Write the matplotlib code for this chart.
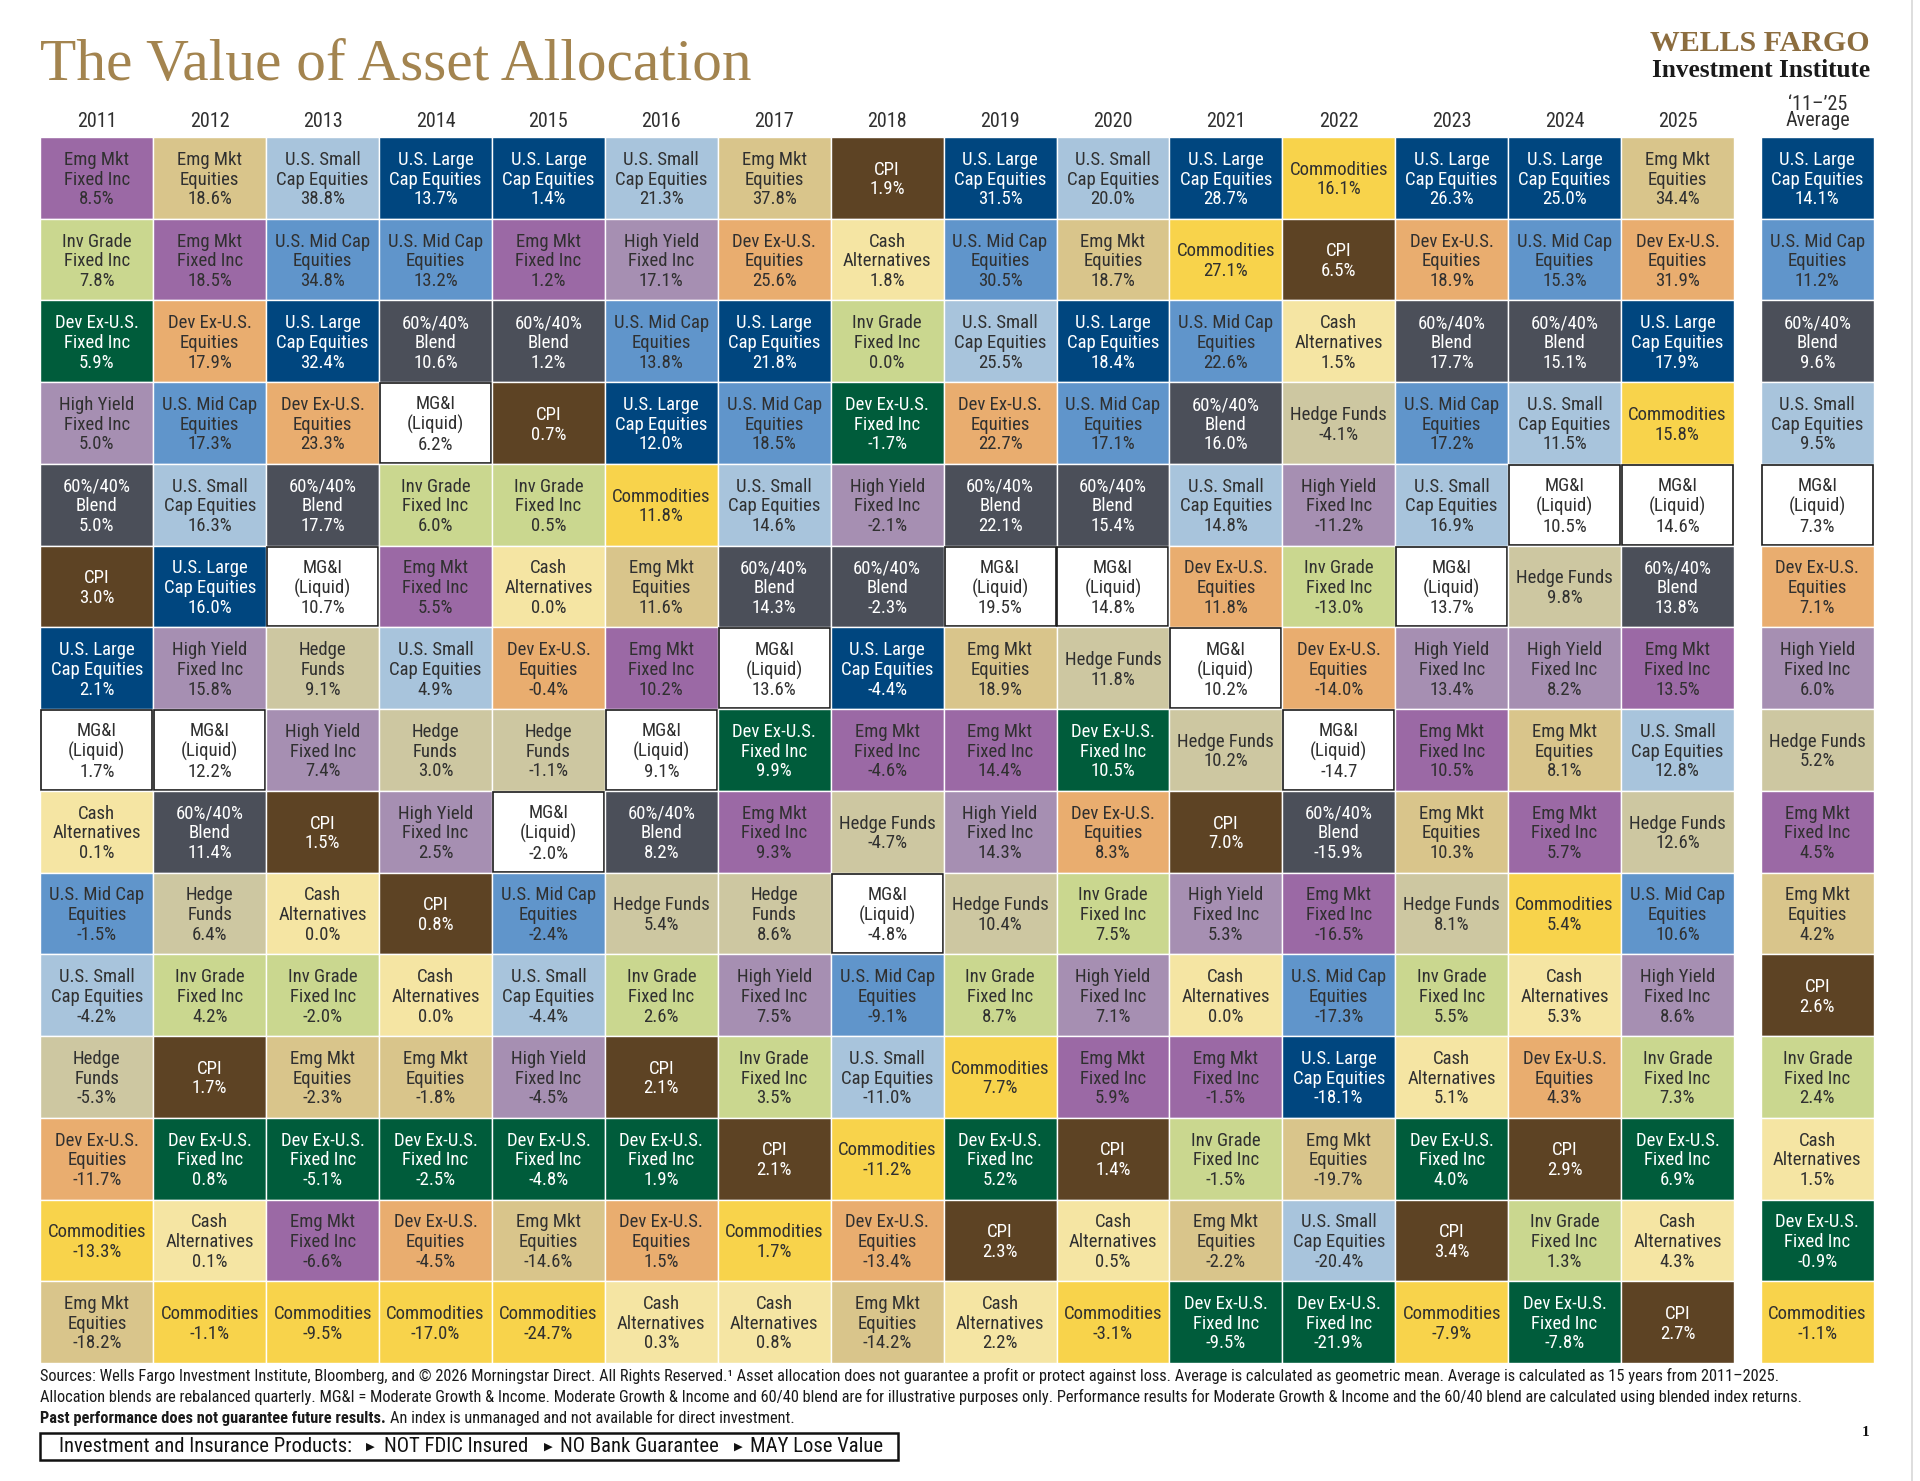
import numpy as np
import matplotlib.pyplot as plt
from matplotlib import font_manager
from matplotlib.patches import Rectangle

# ---- data: asset classes ranked best to worst for each year ----
years = ['2011', '2012', '2013', '2014', '2015', '2016', '2017', '2018',
         '2019', '2020', '2021', '2022', '2023', '2024', '2025']

ranked_assets = [
    ['EMFI', 'IGFI', 'DXFI', 'HYFI', 'BLEND', 'CPI', 'USLC', 'MGI', 'CASH', 'USMC', 'USSC', 'HF', 'DXE', 'COMM', 'EME'],
    ['EME', 'EMFI', 'DXE', 'USMC', 'USSC', 'USLC', 'HYFI', 'MGI', 'BLEND', 'HF', 'IGFI', 'CPI', 'DXFI', 'CASH', 'COMM'],
    ['USSC', 'USMC', 'USLC', 'DXE', 'BLEND', 'MGI', 'HF', 'HYFI', 'CPI', 'CASH', 'IGFI', 'EME', 'DXFI', 'EMFI', 'COMM'],
    ['USLC', 'USMC', 'BLEND', 'MGI', 'IGFI', 'EMFI', 'USSC', 'HF', 'HYFI', 'CPI', 'CASH', 'EME', 'DXFI', 'DXE', 'COMM'],
    ['USLC', 'EMFI', 'BLEND', 'CPI', 'IGFI', 'CASH', 'DXE', 'HF', 'MGI', 'USMC', 'USSC', 'HYFI', 'DXFI', 'EME', 'COMM'],
    ['USSC', 'HYFI', 'USMC', 'USLC', 'COMM', 'EME', 'EMFI', 'MGI', 'BLEND', 'HF', 'IGFI', 'CPI', 'DXFI', 'DXE', 'CASH'],
    ['EME', 'DXE', 'USLC', 'USMC', 'USSC', 'BLEND', 'MGI', 'DXFI', 'EMFI', 'HF', 'HYFI', 'IGFI', 'CPI', 'COMM', 'CASH'],
    ['CPI', 'CASH', 'IGFI', 'DXFI', 'HYFI', 'BLEND', 'USLC', 'EMFI', 'HF', 'MGI', 'USMC', 'USSC', 'COMM', 'DXE', 'EME'],
    ['USLC', 'USMC', 'USSC', 'DXE', 'BLEND', 'MGI', 'EME', 'EMFI', 'HYFI', 'HF', 'IGFI', 'COMM', 'DXFI', 'CPI', 'CASH'],
    ['USSC', 'EME', 'USLC', 'USMC', 'BLEND', 'MGI', 'HF', 'DXFI', 'DXE', 'IGFI', 'HYFI', 'EMFI', 'CPI', 'CASH', 'COMM'],
    ['USLC', 'COMM', 'USMC', 'BLEND', 'USSC', 'DXE', 'MGI', 'HF', 'CPI', 'HYFI', 'CASH', 'EMFI', 'IGFI', 'EME', 'DXFI'],
    ['COMM', 'CPI', 'CASH', 'HF', 'HYFI', 'IGFI', 'DXE', 'MGI', 'BLEND', 'EMFI', 'USMC', 'USLC', 'EME', 'USSC', 'DXFI'],
    ['USLC', 'DXE', 'BLEND', 'USMC', 'USSC', 'MGI', 'HYFI', 'EMFI', 'EME', 'HF', 'IGFI', 'CASH', 'DXFI', 'CPI', 'COMM'],
    ['USLC', 'USMC', 'BLEND', 'USSC', 'MGI', 'HF', 'HYFI', 'EME', 'EMFI', 'COMM', 'CASH', 'DXE', 'CPI', 'IGFI', 'DXFI'],
    ['EME', 'DXE', 'USLC', 'COMM', 'MGI', 'BLEND', 'EMFI', 'USSC', 'HF', 'USMC', 'HYFI', 'IGFI', 'DXFI', 'CASH', 'CPI'],
]

ranked_returns = [
    [8.5, 7.8, 5.9, 5.0, 5.0, 3.0, 2.1, 1.7, 0.1, -1.5, -4.2, -5.3, -11.7, -13.3, -18.2],
    [18.6, 18.5, 17.9, 17.3, 16.3, 16.0, 15.8, 12.2, 11.4, 6.4, 4.2, 1.7, 0.8, 0.1, -1.1],
    [38.8, 34.8, 32.4, 23.3, 17.7, 10.7, 9.1, 7.4, 1.5, 0.0, -2.0, -2.3, -5.1, -6.6, -9.5],
    [13.7, 13.2, 10.6, 6.2, 6.0, 5.5, 4.9, 3.0, 2.5, 0.8, 0.0, -1.8, -2.5, -4.5, -17.0],
    [1.4, 1.2, 1.2, 0.7, 0.5, 0.0, -0.4, -1.1, -2.0, -2.4, -4.4, -4.5, -4.8, -14.6, -24.7],
    [21.3, 17.1, 13.8, 12.0, 11.8, 11.6, 10.2, 9.1, 8.2, 5.4, 2.6, 2.1, 1.9, 1.5, 0.3],
    [37.8, 25.6, 21.8, 18.5, 14.6, 14.3, 13.6, 9.9, 9.3, 8.6, 7.5, 3.5, 2.1, 1.7, 0.8],
    [1.9, 1.8, 0.0, -1.7, -2.1, -2.3, -4.4, -4.6, -4.7, -4.8, -9.1, -11.0, -11.2, -13.4, -14.2],
    [31.5, 30.5, 25.5, 22.7, 22.1, 19.5, 18.9, 14.4, 14.3, 10.4, 8.7, 7.7, 5.2, 2.3, 2.2],
    [20.0, 18.7, 18.4, 17.1, 15.4, 14.8, 11.8, 10.5, 8.3, 7.5, 7.1, 5.9, 1.4, 0.5, -3.1],
    [28.7, 27.1, 22.6, 16.0, 14.8, 11.8, 10.2, 10.2, 7.0, 5.3, 0.0, -1.5, -1.5, -2.2, -9.5],
    [16.1, 6.5, 1.5, -4.1, -11.2, -13.0, -14.0, -14.7, -15.9, -16.5, -17.3, -18.1, -19.7, -20.4, -21.9],
    [26.3, 18.9, 17.7, 17.2, 16.9, 13.7, 13.4, 10.5, 10.3, 8.1, 5.5, 5.1, 4.0, 3.4, -7.9],
    [25.0, 15.3, 15.1, 11.5, 10.5, 9.8, 8.2, 8.1, 5.7, 5.4, 5.3, 4.3, 2.9, 1.3, -7.8],
    [34.4, 31.9, 17.9, 15.8, 14.6, 13.8, 13.5, 12.8, 12.6, 10.6, 8.6, 7.3, 6.9, 4.3, 2.7],
]

avg_assets = ['USLC', 'USMC', 'BLEND', 'USSC', 'MGI', 'DXE', 'HYFI', 'HF', 'EMFI', 'EME',
              'CPI', 'IGFI', 'CASH', 'DXFI', 'COMM']
avg_returns = [14.1, 11.2, 9.6, 9.5, 7.3, 7.1, 6.0, 5.2, 4.5, 4.2, 2.6, 2.4, 1.5, -0.9, -1.1]

labels = {
    'EMFI': 'Emg Mkt\nFixed Inc', 'EME': 'Emg Mkt\nEquities',
    'USSC': 'U.S. Small\nCap Equities', 'USLC': 'U.S. Large\nCap Equities',
    'USMC': 'U.S. Mid Cap\nEquities', 'IGFI': 'Inv Grade\nFixed Inc',
    'HYFI': 'High Yield\nFixed Inc', 'DXFI': 'Dev Ex-U.S.\nFixed Inc',
    'DXE': 'Dev Ex-U.S.\nEquities', 'BLEND': '60%/40%\nBlend',
    'MGI': 'MG&I\n(Liquid)', 'CPI': 'CPI', 'CASH': 'Cash\nAlternatives',
    'COMM': 'Commodities', 'HF': 'Hedge Funds',
}
hedge_split_years = ['2011', '2012', '2013', '2014', '2015', '2017']
no_pct_cells = [('2022', 'MGI')]

colors = {
    'EMFI': '#9b69a5', 'EME': '#d9c58b', 'USSC': '#a8c4dc', 'USLC': '#00467f',
    'USMC': '#6095cb', 'IGFI': '#cad78f', 'HYFI': '#a68fb2', 'DXFI': '#005c3b',
    'DXE': '#e9ad6f', 'BLEND': '#4b4f59', 'MGI': '#ffffff', 'CPI': '#5d4324',
    'CASH': '#f5e5a3', 'COMM': '#f8d34b', 'HF': '#cdc7a1',
}
white_text = ['USLC', 'DXFI', 'BLEND', 'CPI']

footnote1 = ('Sources: Wells Fargo Investment Institute, Bloomberg, and \u00a9 2026 Morningstar Direct. '
             'All Rights Reserved.\u00b9 Asset allocation does not guarantee a profit or protect against loss. '
             'Average is calculated as geometric mean. Average is calculated as 15 years from 2011\u20132025.')
footnote2 = ('Allocation blends are rebalanced quarterly. MG&I = Moderate Growth & Income. '
             'Moderate Growth & Income and 60/40 blend are for illustrative purposes only. '
             'Performance results for Moderate Growth & Income and the 60/40 blend are calculated '
             'using blended index returns.')
footnote3_bold = 'Past performance does not guarantee future results.'
footnote3 = 'An index is unmanaged and not available for direct investment.'
disclosure = ['NOT FDIC Insured', 'NO Bank Guarantee', 'MAY Lose Value']

# ---- fonts ----
avail = {f.name for f in font_manager.fontManager.ttflist}
cell_font = 'DejaVu Sans'
for cand in ['Liberation Sans Narrow', 'Roboto Condensed', 'Open Sans Condensed', 'Liberation Sans']:
    if cand in avail:
        cell_font = cand
        break
serif = 'Liberation Serif'
dark = '#303030'

W, H = 1920, 1481
fig = plt.figure(figsize=(W / 100, H / 100), dpi=100)
fig.patch.set_facecolor('white')

# grid geometry (pixels)
grid_left, grid_top, grid_bottom = 40.4, 137, 1363
col_w = 112.9
avg_gap = 27 / col_w
ncols = len(years) + 1 + avg_gap
ax = fig.add_axes([grid_left / W, 1 - grid_bottom / H, ncols * col_w / W, (grid_bottom - grid_top) / H])
ax.set_xlim(0, ncols)
ax.set_ylim(15, 0)
ax.axis('off')


def draw_cell(x, y, code, value, hedge_split, no_pct):
    if code == 'MGI':
        ax.add_patch(Rectangle((x + 0.008, y + 0.012), 0.984, 0.976, facecolor='white',
                               edgecolor='#1a1a1a', lw=1.2))
    else:
        ax.add_patch(Rectangle((x, y), 1, 1, facecolor=colors[code], edgecolor='white', lw=1.0))
    name = labels[code]
    if code == 'HF' and hedge_split:
        name = 'Hedge\nFunds'
    val = f'{value:.1f}' if no_pct else f'{value:.1f}%'
    tc = 'white' if code in white_text else dark
    ax.text(x + 0.5, y + 0.52, name + '\n' + val, ha='center', va='center', multialignment='center',
            fontsize=13.5, family=cell_font, color=tc, linespacing=1.12)


for i, yr in enumerate(years):
    for r, (code, v) in enumerate(zip(ranked_assets[i], ranked_returns[i])):
        draw_cell(i, r, code, v, yr in hedge_split_years, (yr, code) in no_pct_cells)
    ax.text(i + 0.5, -0.19, yr, ha='center', va='center', fontsize=14.5, family=cell_font,
            color=dark, clip_on=False)

avg_x = len(years) + avg_gap
for r, (code, v) in enumerate(zip(avg_assets, avg_returns)):
    draw_cell(avg_x, r, code, v, False, False)
ax.text(avg_x + 0.5, -0.4, '\u201811\u2013\u201925', ha='center', va='center', fontsize=14.5,
        family=cell_font, color=dark, clip_on=False)
ax.text(avg_x + 0.5, -0.2, 'Average', ha='center', va='center', fontsize=14.5,
        family=cell_font, color=dark, clip_on=False)

# ---- title and branding ----
renderer = fig.canvas.get_renderer()
title = fig.text(40 / W, 1 - 80 / H, 'The Value of Asset Allocation', ha='left', va='baseline',
                 fontsize=44, family=serif, color='#a3844f')
tw = title.get_window_extent(renderer).width
title.set_fontsize(44 * 712 / tw)

fig.text(1870 / W, 1 - 51 / H, 'WELLS FARGO', ha='right', va='baseline', fontsize=21.5,
         family=serif, weight='bold', color='#8c6d3f')
fig.text(1870 / W, 1 - 77 / H, 'Investment Institute', ha='right', va='baseline', fontsize=18.2,
         family=serif, weight='bold', color='#1a1a1a')

# ---- footnotes ----
fn_size = 12.5
f2 = fig.text(40 / W, 1 - 1397 / H, footnote2, ha='left', va='center', fontsize=fn_size,
              family=cell_font, color='#1a1a1a')
w2 = f2.get_window_extent(renderer).width
fn_size = fn_size * 1780 / w2
f2.set_fontsize(fn_size)
fig.text(40 / W, 1 - 1376 / H, footnote1, ha='left', va='center', fontsize=fn_size,
         family=cell_font, color='#1a1a1a')
fb = fig.text(40 / W, 1 - 1418 / H, footnote3_bold, ha='left', va='center', fontsize=fn_size,
              family=cell_font, weight='bold', color='#1a1a1a')
bx = fb.get_window_extent(renderer).x1
fig.text((bx + 4) / W, 1 - 1418 / H, footnote3, ha='left', va='center', fontsize=fn_size,
         family=cell_font, color='#1a1a1a')

# disclosure box
fig.add_artist(Rectangle((40 / W, 1 - 1460 / H), 858 / W, 27 / H, transform=fig.transFigure,
                         facecolor='white', edgecolor='#111111', lw=1.8))
box_y = 1 - 1447 / H
lead = fig.text(59 / W, box_y, 'Investment and Insurance Products:', ha='left', va='center',
                fontsize=15, family=cell_font, color='#111111')
lw_ = lead.get_window_extent(renderer).width
box_size = 15 * 293 / lw_
lead.set_fontsize(box_size)
for tri_x, item_x, item in zip([370, 548, 738], [384, 560, 750], disclosure):
    fig.text(tri_x / W, box_y, '\u25b6', ha='center', va='center', fontsize=box_size * 0.55,
             family='DejaVu Sans', color='#111111')
    fig.text(item_x / W, box_y, item, ha='left', va='center', fontsize=box_size,
             family=cell_font, color='#111111')

fig.text(1866 / W, 1 - 1433 / H, '1', ha='center', va='center', fontsize=11, family=serif,
         weight='bold', color='#111111')

# page edge
fig.add_artist(plt.Line2D([1912 / W, 1912 / W], [0, 1], transform=fig.transFigure,
                          color='#d8d8d8', lw=1.2))

fig.savefig('out.png', dpi=100, facecolor='white')
